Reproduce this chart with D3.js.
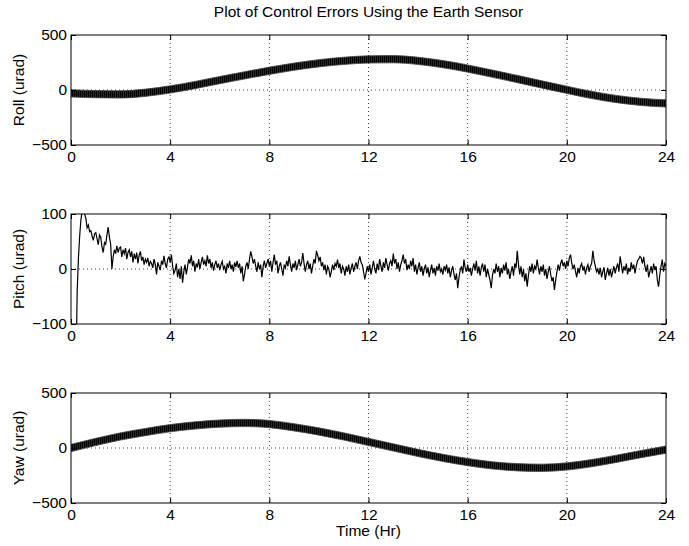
<!DOCTYPE html>
<html>
<head>
<meta charset="utf-8">
<script src="https://cdn.jsdelivr.net/npm/d3@7"></script>
<style>
  html, body { margin: 0; padding: 0; background: #fff; }
  svg { display: block; font-family: "Liberation Sans", Arial, Helvetica, sans-serif; }
</style>
</head>
<body>
<svg width="689" height="546"></svg>
<script>
"use strict";

// time axis (hours) and tick labels
const xTicks = [0, 4, 8, 12, 16, 20, 24];
const hourly = d3.range(0, 25); // 0..24 hr, sample times for roll and yaw

// Roll (urad), mean of the band read each hour
const rollValues = [-30, -38, -40, -25, 5, 45, 90, 133, 175, 212, 243, 265, 278,
                    280, 265, 235, 195, 148, 100, 50, 2, -45, -82, -108, -122];
// Yaw (urad), mean of the band read each hour
const yawValues = [0, 55, 105, 145, 180, 205, 222, 228, 218, 188, 150, 105, 55,
                   5, -45, -90, -128, -158, -175, -180, -168, -138, -98, -55, -15];
// half thickness of the fast ripple seen on roll and yaw (urad)
const rollRipple = 33;
const yawRipple = 33;

// Pitch (urad), read every 0.05 hr; one row per hour
const pitchStep = 0.05;
const pitchValues = [
  -1500, -1000, -650, -380, -180, -40, 20, 60, 90, 105, 108, 100, 92, 75, 80, 68, 70, 60, 52, 64,
  66, 55, 44, 62, 58, 40, 30, 48, 45, 62, 76, 58, 45, 0, 22, 35, 28, 42, 30, 38,
  40, 22, 35, 28, 38, 18, 30, 35, 22, 32, 12, 28, 18, 30, 10, 25, 32, 15, 22, 8,
  18, 12, 20, 5, 14, 10, 2, 18, 8, -10, 12, 5, -2, 15, 8, 24, 10, 2, 18, 22,
  12, 26, 5, -8, -2, 10, -15, 0, -18, 5, -25, -5, 8, -10, 4, 18, 10, 25, 5, 15,
  -5, 10, 3, 18, 0, 12, 22, 8, 15, 5, 25, 10, 18, 2, 12, -3, 8, 15, 2, 10,
  -2, 8, 14, 0, 5, -8, 10, 2, 15, 0, 8, -5, 12, 4, 15, 2, 10, -8, 5, -22,
  -10, 5, 12, 0, 18, 32, 22, 10, 18, 5, -5, 12, 0, 8, -15, 5, 15, 2, 10, 18,
  5, 15, -5, 12, 26, 8, 15, -8, 5, 12, 0, -12, 8, 2, 15, 5, 23, 8, -5, 10,
  2, 15, -2, 8, 18, 5, 12, 29, 10, -5, 8, 15, 0, 10, -8, 5, 18, 10, 33, 25,
  15, 22, 5, 12, -2, 8, -10, 5, 0, -15, -5, 8, -2, 10, 5, 17, 2, 10, -8, 5,
  0, -12, 5, -5, 8, -10, 2, 10, -5, 5, 12, 0, 15, 23, 12, 8, -5, -19, -8, 5,
  -5, 8, -10, 2, 15, 0, -8, 10, -2, 18, 5, -5, 12, 2, 20, 8, -3, 10, 15, 5,
  28, 10, 18, 0, 12, -5, 8, 15, 26, 10, 18, -2, 8, 0, 15, 5, 20, -5, 8, -10,
  2, 12, -5, 5, -12, 0, 8, -8, 3, -15, -2, 8, -8, 2, -12, 5, -3, 10, -5, 0,
  -10, 5, -2, 8, -8, 3, -15, -3, 5, -10, -20, -8, -35, -15, -2, 5, -8, 17, 2, -5,
  8, -5, 2, -12, 0, 10, -3, 15, -8, 5, -12, 2, 10, -5, 8, -15, 0, -10, -20, -35,
  -12, 0, -8, 10, -5, 5, -15, 2, -8, 8, -3, 12, -10, 0, -18, -5, 5, -12, 10, 2,
  33, 8, -10, 5, -15, 0, -22, -8, -32, -12, 5, -5, 10, -8, 5, 0, 17, 2, -10, 5,
  -5, 8, -12, 0, -18, -5, 5, -10, -22, -15, -38, -20, -5, 8, -3, 10, 17, 5, 12, 0,
  15, 5, 20, 26, 10, 0, 8, -5, -15, 2, -8, 5, 10, -3, 5, -10, 2, 8, -5, 5,
  10, 33, 15, 5, -5, 0, -10, 2, -15, -5, 3, -20, -8, 2, -12, 0, -15, -5, 5, -8,
  2, 10, -5, 23, 8, -8, 5, -3, 10, -10, 2, -5, 12, 0, 8, -8, 5, 15, 18, 23,
  20, 10, 22, 5, -5, 8, -15, -5, 5, -8, 10, -2, 5, -20, -32, -10, 5, 17, -5, 10,
  5
];

const panels = [
  { label: "Roll (urad)",  domain: [-500, 500], ticks: [-500, 0, 500], top: 35,  kind: "band",
    values: rollValues, ripple: rollRipple },
  { label: "Pitch (urad)", domain: [-100, 100], ticks: [-100, 0, 100], top: 214, kind: "line",
    values: pitchValues },
  { label: "Yaw (urad)",   domain: [-500, 500], ticks: [-500, 0, 500], top: 393, kind: "band",
    values: yawValues, ripple: yawRipple }
];

const svg = d3.select("svg");
const left = 71, right = 666, plotH = 110;
const fontSize = 15.5;

const x = d3.scaleLinear().domain([0, 24]).range([left, right]);

// fine vertical hatch so the ripple band is not a flat black ribbon
const pat = svg.append("defs").append("pattern")
  .attr("id", "ripple").attr("patternUnits", "userSpaceOnUse")
  .attr("width", 2).attr("height", 8);
pat.append("rect").attr("width", 2).attr("height", 8).attr("fill", "#3c3c3c");
pat.append("rect").attr("width", 1.3).attr("height", 8).attr("fill", "#000");

svg.append("text")
  .attr("x", (left + right) / 2).attr("y", 17)
  .attr("text-anchor", "middle")
  .attr("font-size", fontSize)
  .text("Plot of Control Errors Using the Earth Sensor");

panels.forEach((p, i) => {
  const y = d3.scaleLinear().domain(p.domain).range([p.top + plotH, p.top]);
  const g = svg.append("g");

  g.append("clipPath").attr("id", "clip" + i)
    .append("rect").attr("x", left).attr("y", p.top).attr("width", right - left).attr("height", plotH);

  // dotted grid
  g.append("g").selectAll("line").data(xTicks.slice(1, -1)).join("line")
    .attr("x1", d => x(d)).attr("x2", d => x(d))
    .attr("y1", p.top).attr("y2", p.top + plotH)
    .attr("stroke", "#444").attr("stroke-dasharray", "1,3");
  g.append("g").selectAll("line").data(p.ticks.slice(1, -1)).join("line")
    .attr("y1", d => y(d)).attr("y2", d => y(d))
    .attr("x1", left).attr("x2", right)
    .attr("stroke", "#444").attr("stroke-dasharray", "1,3");

  const plot = g.append("g").attr("clip-path", `url(#clip${i})`);
  if (p.kind === "band") {
    const area = d3.area()
      .x((d, j) => x(hourly[j]))
      .y0(d => y(d - p.ripple))
      .y1(d => y(d + p.ripple))
      .curve(d3.curveMonotoneX);
    plot.append("path").datum(p.values).attr("d", area)
      .attr("fill", "url(#ripple)").attr("stroke", "#444").attr("stroke-width", 0.8);
  } else {
    const line = d3.line()
      .x((d, j) => x(j * pitchStep))
      .y(d => y(d));
    plot.append("path").datum(p.values).attr("d", line)
      .attr("fill", "none").attr("stroke", "#000").attr("stroke-width", 1.2);
  }

  // axes with inward ticks on all four sides
  const ax = g.append("g").attr("transform", `translate(0,${p.top + plotH})`)
    .call(d3.axisBottom(x).tickValues(xTicks).tickSizeInner(-5).tickSizeOuter(0).tickPadding(6));
  g.append("g").attr("transform", `translate(0,${p.top})`)
    .call(d3.axisTop(x).tickValues(xTicks).tickSizeInner(-5).tickSizeOuter(0).tickFormat(""));
  const ay = g.append("g").attr("transform", `translate(${left},0)`)
    .call(d3.axisLeft(y).tickValues(p.ticks).tickSizeInner(-5).tickSizeOuter(0).tickPadding(4));
  g.append("g").attr("transform", `translate(${right},0)`)
    .call(d3.axisRight(y).tickValues(p.ticks).tickSizeInner(-5).tickSizeOuter(0).tickFormat(""));

  g.selectAll(".domain").remove();
  g.selectAll(".tick line").attr("stroke", "#000");
  [ax, ay].forEach(a => a.selectAll("text")
    .attr("font-size", fontSize).attr("font-family", null).attr("fill", "#000"));

  g.append("rect").attr("x", left).attr("y", p.top).attr("width", right - left).attr("height", plotH)
    .attr("fill", "none").attr("stroke", "#000").attr("stroke-width", 1);

  svg.append("text")
    .attr("transform", `translate(24,${p.top + plotH / 2}) rotate(-90)`)
    .attr("text-anchor", "middle")
    .attr("font-size", fontSize)
    .text(p.label);
});

svg.append("text")
  .attr("x", (left + right) / 2).attr("y", 536)
  .attr("text-anchor", "middle")
  .attr("font-size", fontSize)
  .text("Time (Hr)");
</script>
</body>
</html>
